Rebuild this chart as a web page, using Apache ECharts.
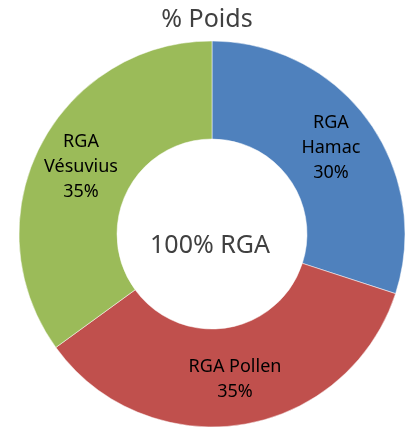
<!DOCTYPE html>
<html>
<head>
<meta charset="utf-8">
<script src="https://cdn.jsdelivr.net/npm/echarts@6/dist/echarts.min.js"></script>
<style>
html,body{margin:0;padding:0;background:#fff;}
#chart{width:414px;height:428px;}
</style>
</head>
<body>
<div id="chart"></div>
<script>
const chartTitle = '% Poids';
const centerText = '100% RGA';
const categories = ['RGA\nHamac', 'RGA Pollen', 'RGA\nVésuvius'];
const values = [30, 35, 35];
const colors = ['#4F81BD', '#C0504D', '#9BBB59'];

const chart = echarts.init(document.getElementById('chart'), null, {renderer: 'canvas'});
chart.setOption({
  animation: false,
  backgroundColor: '#fff',
  title: {
    text: chartTitle,
    left: 'center',
    top: 2,
    textStyle: {fontFamily: 'Noto Sans', fontSize: 25, fontWeight: 'normal', color: '#404040'}
  },
  graphic: [{
    type: 'text',
    x: 210, y: 246,
    style: {
      text: centerText,
      fontFamily: 'Noto Sans', fontSize: 25, fill: '#404040',
      textAlign: 'center', textVerticalAlign: 'middle'
    }
  }],
  series: [{
    type: 'pie',
    center: [212, 234],
    radius: [95, 193],
    startAngle: 90,
    clockwise: true,
    avoidLabelOverlap: false,
    itemStyle: {borderColor: '#ffffff', borderWidth: 0.5},
    label: {
      show: true,
      position: 'inside',
      formatter: '{b}\n{d}%',
      fontFamily: 'Noto Sans',
      fontSize: 18,
      lineHeight: 25,
      color: '#000'
    },
    labelLine: {show: false},
    data: categories.map((c, i) => ({name: c, value: values[i], itemStyle: {color: colors[i]}}))
  }]
});
</script>
</body>
</html>
